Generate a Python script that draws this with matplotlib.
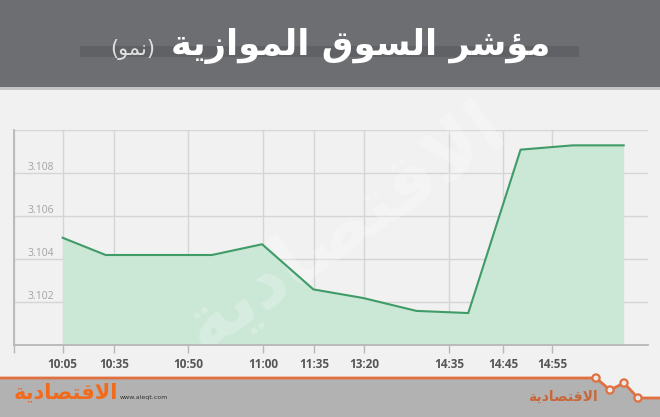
import matplotlib
matplotlib.use("Agg")
import matplotlib.pyplot as plt
from matplotlib.patches import Rectangle, Polygon, Circle

# x tick labels and their positions on the chart's own x scale
times = ["10:05", "10:35", "10:50", "11:00", "11:35", "13:20", "14:35", "14:45", "14:55"]
tick_pos = [0, 1.0, 2.42, 3.87, 4.86, 5.82, 7.46, 8.5, 9.45]

# index readings
point_pos = [0, 0.83, 2.88, 3.85, 4.84, 5.8, 6.83, 7.83, 8.84, 9.85, 10.83]
values = [3.1050, 3.1042, 3.1042, 3.1047, 3.1026, 3.1022, 3.1016, 3.1015, 3.1091, 3.1093, 3.1093]

y_ticks = [3.100, 3.102, 3.104, 3.106, 3.108, 3.110]
y_labels = ["", "3.102", "3.104", "3.106", "3.108", ""]

title = "مؤشر السوق الموازية"
subtitle = "(نمو)"
brand = "الاقتصادية"

# matplotlib has no arabic shaping -> map to presentation forms by hand
FORMS = {  # isolated, final, initial, medial
    'ا': ('\uFE8D', '\uFE8E', None, None),
    'ؤ': ('\uFE85', '\uFE86', None, None),
    'ة': ('\uFE93', '\uFE94', None, None),
    'د': ('\uFEA9', '\uFEAA', None, None),
    'ر': ('\uFEAD', '\uFEAE', None, None),
    'ز': ('\uFEAF', '\uFEB0', None, None),
    'و': ('\uFEED', '\uFEEE', None, None),
    'ت': ('\uFE95', '\uFE96', '\uFE97', '\uFE98'),
    'س': ('\uFEB1', '\uFEB2', '\uFEB3', '\uFEB4'),
    'ش': ('\uFEB5', '\uFEB6', '\uFEB7', '\uFEB8'),
    'ص': ('\uFEB9', '\uFEBA', '\uFEBB', '\uFEBC'),
    'ق': ('\uFED5', '\uFED6', '\uFED7', '\uFED8'),
    'ل': ('\uFEDD', '\uFEDE', '\uFEDF', '\uFEE0'),
    'م': ('\uFEE1', '\uFEE2', '\uFEE3', '\uFEE4'),
    'ن': ('\uFEE5', '\uFEE6', '\uFEE7', '\uFEE8'),
    'ي': ('\uFEF1', '\uFEF2', '\uFEF3', '\uFEF4'),
}


def dual(c):
    return c in FORMS and FORMS[c][2] is not None


def shape(s):
    res = []
    n = len(s)
    i = 0
    while i < n:
        c = s[i]
        prev = s[i - 1] if i > 0 else ''
        if c == 'ل' and i + 1 < n and s[i + 1] == 'ا':
            res.append('\uFEFC' if dual(prev) else '\uFEFB')
            i += 2
            continue
        if c in FORMS:
            f = FORMS[c]
            nxt = s[i + 1] if i + 1 < n else ''
            jp = dual(prev)
            jn = f[2] is not None and nxt in FORMS
            if jp and jn:
                res.append(f[3])
            elif jp:
                res.append(f[1])
            elif jn:
                res.append(f[2])
            else:
                res.append(f[0])
        else:
            res.append(c)
        i += 1
    out = ''.join(reversed(res))
    return out.translate(str.maketrans('()', ')('))


BG = "#f1f1f1"
fig = plt.figure(figsize=(6.6, 4.17), dpi=100, facecolor=BG)

# decoration layer in pixel coords
deco = fig.add_axes([0, 0, 1, 1], zorder=0)
deco.set_xlim(0, 660)
deco.set_ylim(417, 0)
deco.axis("off")
deco.add_patch(Rectangle((0, 0), 660, 87, color="#6d6e72", lw=0))
deco.add_patch(Rectangle((0, 87), 660, 3, color="#c4c4c4", lw=0))
deco.add_patch(Rectangle((80, 46), 499, 11, color="#606165", lw=0))
deco.text(550, 46, shape(title), family="DejaVu Sans", weight="bold", fontsize=25.5,
          color="white", ha="right", va="center")
deco.text(110, 49, shape(subtitle), family="DejaVu Sans", fontsize=15,
          color="#e0e0e0", ha="left", va="center")

# footer
zig_x = [0, 596, 610, 624, 638, 660]
zig_y = [378, 378, 390, 383, 398, 398]
deco.add_patch(Polygon(list(zip(zig_x, zig_y)) + [(660, 417), (0, 417)],
                       closed=True, color="#b2b2b2", lw=0))
deco.plot(zig_x, zig_y, color="#e07040", lw=2)
for cx, cy in zip(zig_x[1:5], zig_y[1:5]):
    deco.add_patch(Circle((cx, cy), 3.6, facecolor="#e9e9e9", edgecolor="#e07040", lw=1.6, zorder=3))
deco.text(120, 398, "www.aleqt.com", family="DejaVu Sans", fontsize=4.5, color="#333333",
          ha="left", va="center")
deco.text(14, 392, shape(brand), family="DejaVu Sans", weight="bold", fontsize=15,
          color="#f26a1b", ha="left", va="center")
deco.text(563, 397, shape(brand), family="DejaVu Sans", weight="bold", fontsize=10,
          color="#c8683a", ha="center", va="center")

# chart
ax = fig.add_axes([14 / 660, 1 - 345.3 / 417, 634 / 660, 215 / 417], zorder=1)
ax.set_facecolor(BG)
ax.patch.set_alpha(0)
ax.fill_between(point_pos, values, 3.100, color="#cbe7d6", lw=0, zorder=2)
ax.plot(point_pos, values, color="#3f9b68", lw=1.5, zorder=3)

ax.set_xlim(-0.94, 11.30)
ax.set_ylim(3.100, 3.110)
ax.set_xticks(tick_pos + [-0.94])
ax.set_xticklabels(times + [""])
ax.set_yticks(y_ticks)
ax.set_yticklabels(y_labels)
ax.grid(True, color="#d5d5d5", lw=1, zorder=1)
ax.set_axisbelow(True)

for s in ["top", "right"]:
    ax.spines[s].set_visible(False)
for s in ["left", "bottom"]:
    ax.spines[s].set_color("#b8b8b8")
    ax.spines[s].set_linewidth(1.3)

ax.tick_params(axis="x", length=6, width=1, color="#b8b8b8", pad=3, labelsize=8.5,
               labelcolor="#555555")
for lbl in ax.get_xticklabels():
    lbl.set_fontfamily("Open Sans")
    lbl.set_fontweight("bold")
ax.tick_params(axis="y", length=0, pad=-10, labelsize=7.5, labelcolor="#a3a3a3")
for lbl in ax.get_yticklabels():
    lbl.set_fontfamily("Open Sans")
    lbl.set_horizontalalignment("left")
    lbl.set_verticalalignment("bottom")

# faint watermark
ax.text(0.52, 0.55, shape(brand), transform=ax.transAxes, family="DejaVu Sans",
        weight="bold", fontsize=54, color="white", alpha=0.25, rotation=35,
        ha="center", va="center", zorder=2.5)

fig.savefig("out.png", dpi=100, facecolor=BG)
